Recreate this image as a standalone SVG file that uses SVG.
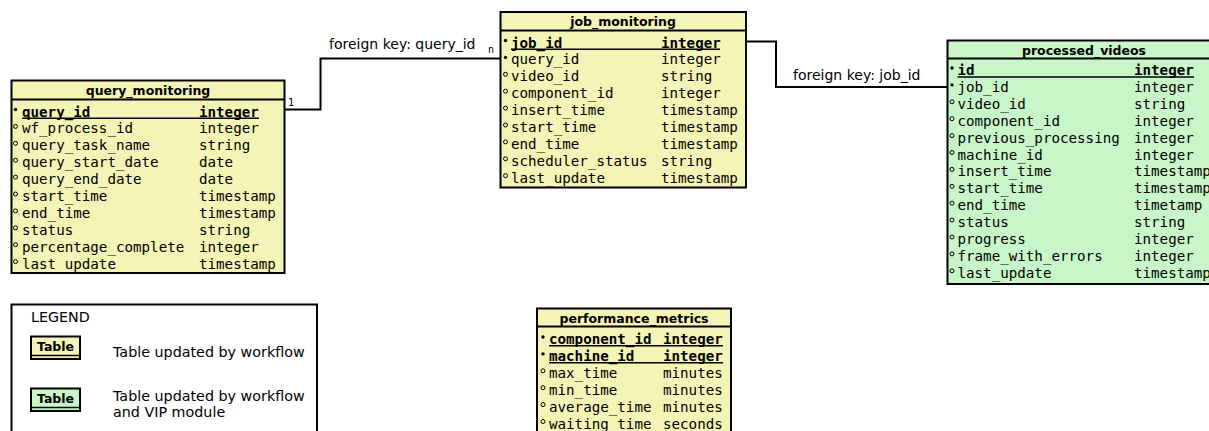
<svg xmlns="http://www.w3.org/2000/svg" width="1209" height="431" viewBox="0 0 1209 431">
<style>
.box{stroke:#000;stroke-width:2}
.y{fill:#f4f4b6}
.g{fill:#c8f6c8}
.hl{stroke:#000;stroke-width:2}
.ttl{font-family:"DejaVu Sans",sans-serif;font-weight:bold;font-size:12.5px;text-anchor:middle;fill:#000}
.r{font-family:"DejaVu Sans Mono",monospace;font-size:14.2px;fill:#000}
.k{font-family:"DejaVu Sans Mono",monospace;font-size:14.2px;font-weight:bold;fill:#000}
.ul{stroke:#000;stroke-width:1.5}
.fb{fill:#000;transform:translateY(1.5px)}
.ob{fill:none;stroke:#000;stroke-width:1;transform:translateY(1.5px)}
.lbl{font-family:"DejaVu Sans",sans-serif;font-size:14px;fill:#000}
.lg{font-family:"DejaVu Sans",sans-serif;font-size:14.3px;fill:#000}
.sm{font-family:"DejaVu Sans Mono",monospace;font-size:10px;fill:#000}
.con{fill:none;stroke:#000;stroke-width:2}
.lt{font-family:"DejaVu Sans",sans-serif;font-weight:bold;font-size:12.5px;text-anchor:middle;fill:#000}
</style>

<g id="connectors">
<polyline class="con" points="285,109.5 320.5,109.5 320.5,58.5 500,58.5"/>
<text class="sm" x="288" y="106">1</text>
<text class="sm" x="488" y="53">n</text>
<text class="lbl" x="329" y="48.5">foreign key: query_id</text>
<polyline class="con" points="746,41.5 776,41.5 776,87 947,87"/>
<text class="lbl" x="793" y="80">foreign key: job_id</text>
</g>

<g id="query_monitoring">
<rect class="box y" x="11.5" y="80.5" width="273" height="192.5"/>
<line class="hl" x1="11.5" y1="99.5" x2="284.5" y2="99.5"/>
<text class="ttl" x="148" y="95">query_monitoring</text>
<circle class="fb" cx="15.5" cy="108" r="1.7"/>
<text class="k" x="22" y="116.5">query_id</text><text class="k" x="199" y="116.5">integer</text>
<line class="ul" x1="22" y1="118.3" x2="259" y2="118.3"/>
<circle class="ob" cx="15.5" cy="124.9" r="2"/><text class="r" x="22" y="133.4">wf_process_id</text><text class="r" x="199" y="133.4">integer</text>
<circle class="ob" cx="15.5" cy="141.8" r="2"/><text class="r" x="22" y="150.3">query_task_name</text><text class="r" x="199" y="150.3">string</text>
<circle class="ob" cx="15.5" cy="158.7" r="2"/><text class="r" x="22" y="167.2">query_start_date</text><text class="r" x="199" y="167.2">date</text>
<circle class="ob" cx="15.5" cy="175.6" r="2"/><text class="r" x="22" y="184.1">query_end_date</text><text class="r" x="199" y="184.1">date</text>
<circle class="ob" cx="15.5" cy="192.5" r="2"/><text class="r" x="22" y="201">start_time</text><text class="r" x="199" y="201">timestamp</text>
<circle class="ob" cx="15.5" cy="209.4" r="2"/><text class="r" x="22" y="217.9">end_time</text><text class="r" x="199" y="217.9">timestamp</text>
<circle class="ob" cx="15.5" cy="226.3" r="2"/><text class="r" x="22" y="234.8">status</text><text class="r" x="199" y="234.8">string</text>
<circle class="ob" cx="15.5" cy="243.2" r="2"/><text class="r" x="22" y="251.7">percentage_complete</text><text class="r" x="199" y="251.7">integer</text>
<circle class="ob" cx="15.5" cy="260.1" r="2"/><text class="r" x="22" y="268.6">last_update</text><text class="r" x="199" y="268.6">timestamp</text>
</g>

<g id="job_monitoring">
<rect class="box y" x="500.5" y="12" width="245.5" height="175.5"/>
<line class="hl" x1="500.5" y1="30.5" x2="746" y2="30.5"/>
<text class="ttl" x="623" y="26">job_monitoring</text>
<circle class="fb" cx="505.5" cy="39" r="1.7"/>
<text class="k" x="511" y="47.5">job_id</text><text class="k" x="661" y="47.5">integer</text>
<line class="ul" x1="511" y1="49.3" x2="720" y2="49.3"/>
<circle class="fb" cx="505.5" cy="55.9" r="1.7"/><text class="r" x="511" y="64.4">query_id</text><text class="r" x="661" y="64.4">integer</text>
<circle class="ob" cx="505.5" cy="72.8" r="2"/><text class="r" x="511" y="81.3">video_id</text><text class="r" x="661" y="81.3">string</text>
<circle class="ob" cx="505.5" cy="89.7" r="2"/><text class="r" x="511" y="98.2">component_id</text><text class="r" x="661" y="98.2">integer</text>
<circle class="ob" cx="505.5" cy="106.6" r="2"/><text class="r" x="511" y="115.1">insert_time</text><text class="r" x="661" y="115.1">timestamp</text>
<circle class="ob" cx="505.5" cy="123.5" r="2"/><text class="r" x="511" y="132">start_time</text><text class="r" x="661" y="132">timestamp</text>
<circle class="ob" cx="505.5" cy="140.4" r="2"/><text class="r" x="511" y="148.9">end_time</text><text class="r" x="661" y="148.9">timestamp</text>
<circle class="ob" cx="505.5" cy="157.3" r="2"/><text class="r" x="511" y="165.8">scheduler_status</text><text class="r" x="661" y="165.8">string</text>
<circle class="ob" cx="505.5" cy="174.2" r="2"/><text class="r" x="511" y="182.7">last_update</text><text class="r" x="661" y="182.7">timestamp</text>
</g>

<g id="processed_videos">
<rect class="box g" x="947.5" y="40.5" width="273.5" height="243.5"/>
<line class="hl" x1="947.5" y1="58.5" x2="1221" y2="58.5"/>
<text class="ttl" x="1084" y="54.5">processed_videos</text>
<circle class="fb" cx="952" cy="66.5" r="1.7"/>
<text class="k" x="957.5" y="75">id</text><text class="k" x="1134" y="75">integer</text>
<line class="ul" x1="957.5" y1="77" x2="1194" y2="77"/>
<circle class="fb" cx="952" cy="83.4" r="1.7"/><text class="r" x="957.5" y="91.9">job_id</text><text class="r" x="1134" y="91.9">integer</text>
<circle class="ob" cx="952" cy="100.3" r="2"/><text class="r" x="957.5" y="108.8">video_id</text><text class="r" x="1134" y="108.8">string</text>
<circle class="ob" cx="952" cy="117.2" r="2"/><text class="r" x="957.5" y="125.7">component_id</text><text class="r" x="1134" y="125.7">integer</text>
<circle class="ob" cx="952" cy="134.1" r="2"/><text class="r" x="957.5" y="142.6">previous_processing</text><text class="r" x="1134" y="142.6">integer</text>
<circle class="ob" cx="952" cy="151" r="2"/><text class="r" x="957.5" y="159.5">machine_id</text><text class="r" x="1134" y="159.5">integer</text>
<circle class="ob" cx="952" cy="167.9" r="2"/><text class="r" x="957.5" y="176.4">insert_time</text><text class="r" x="1134" y="176.4">timestamp</text>
<circle class="ob" cx="952" cy="184.8" r="2"/><text class="r" x="957.5" y="193.3">start_time</text><text class="r" x="1134" y="193.3">timestamp</text>
<circle class="ob" cx="952" cy="201.7" r="2"/><text class="r" x="957.5" y="210.2">end_time</text><text class="r" x="1134" y="210.2">timetamp</text>
<circle class="ob" cx="952" cy="218.6" r="2"/><text class="r" x="957.5" y="227.1">status</text><text class="r" x="1134" y="227.1">string</text>
<circle class="ob" cx="952" cy="235.5" r="2"/><text class="r" x="957.5" y="244">progress</text><text class="r" x="1134" y="244">integer</text>
<circle class="ob" cx="952" cy="252.4" r="2"/><text class="r" x="957.5" y="260.9">frame_with_errors</text><text class="r" x="1134" y="260.9">integer</text>
<circle class="ob" cx="952" cy="269.3" r="2"/><text class="r" x="957.5" y="277.8">last_update</text><text class="r" x="1134" y="277.8">timestamp</text>
</g>

<g id="performance_metrics">
<rect class="box y" x="537" y="308.5" width="194" height="140"/>
<line class="hl" x1="537" y1="326.5" x2="731" y2="326.5"/>
<text class="ttl" x="634" y="322.5">performance_metrics</text>
<circle class="fb" cx="543" cy="335.5" r="1.7"/>
<text class="k" x="549" y="344">component_id</text><text class="k" x="663" y="344">integer</text>
<line class="ul" x1="549" y1="345.8" x2="723" y2="345.8"/>
<circle class="fb" cx="543" cy="352.4" r="1.7"/>
<text class="k" x="549" y="360.9">machine_id</text><text class="k" x="663" y="360.9">integer</text>
<line class="ul" x1="549" y1="362.7" x2="723" y2="362.7"/>
<circle class="ob" cx="543" cy="369.3" r="2"/><text class="r" x="549" y="377.8">max_time</text><text class="r" x="663" y="377.8">minutes</text>
<circle class="ob" cx="543" cy="386.2" r="2"/><text class="r" x="549" y="394.7">min_time</text><text class="r" x="663" y="394.7">minutes</text>
<circle class="ob" cx="543" cy="403.1" r="2"/><text class="r" x="549" y="411.6">average_time</text><text class="r" x="663" y="411.6">minutes</text>
<circle class="ob" cx="543" cy="420" r="2"/><text class="r" x="549" y="428.5">waiting_time</text><text class="r" x="663" y="428.5">seconds</text>
</g>

<g id="legend">
<rect x="11.5" y="304.5" width="305.5" height="140" fill="#fff" stroke="#000" stroke-width="2"/>
<text class="lg" x="31" y="322">LEGEND</text>
<rect class="box y" x="31" y="336.5" width="49" height="22.5"/>
<line stroke="#000" stroke-width="1.5" x1="31" y1="355.5" x2="80" y2="355.5"/>
<text class="lt" x="55.5" y="351">Table</text>
<text class="lg" x="113" y="357">Table updated by workflow</text>
<rect class="box g" x="31" y="388.5" width="49" height="22.5"/>
<line stroke="#000" stroke-width="1.5" x1="31" y1="407.5" x2="80" y2="407.5"/>
<text class="lt" x="55.5" y="403">Table</text>
<text class="lg" x="113" y="401">Table updated by workflow</text>
<text class="lg" x="113" y="417">and VIP module</text>
</g>
</svg>
